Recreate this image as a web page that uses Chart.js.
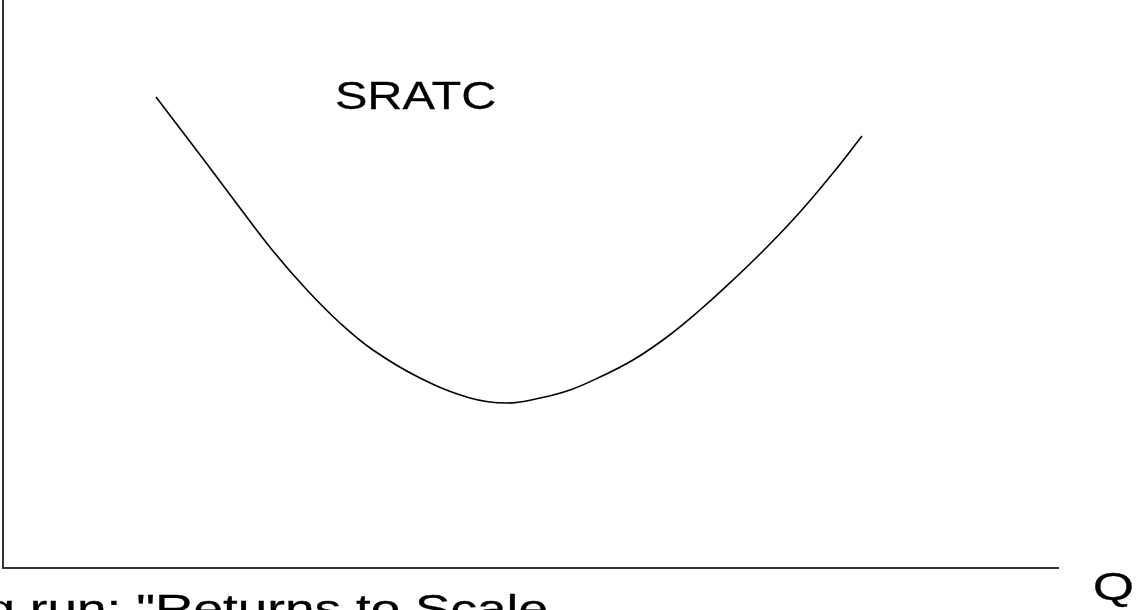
<!DOCTYPE html>
<html>
<head>
<meta charset="utf-8">
<script src="https://cdn.jsdelivr.net/npm/chart.js@4.4.0/dist/chart.umd.min.js"></script>
<style>
  html, body { margin: 0; padding: 0; background: #fff; }
  #wrap { width: 1136px; height: 610px; }
</style>
</head>
<body>
<div id="wrap"><canvas id="myChart" width="1136" height="610"></canvas></div>
<script>
// quantity (x) and short-run average total cost (y)
var quantity = [153, 204, 237, 270, 304, 337, 370, 417, 467, 504, 537, 567, 597, 630, 664, 697, 730, 764, 797, 830, 859];
var sratc    = [471, 404, 360, 317, 278, 245, 218, 190, 170, 165, 170, 178, 191, 208, 231, 258, 288, 321, 356, 395, 432];

var curveLabel = "SRATC";
var xAxisLabel = "Q";
var footerText = 'Long run: "Returns to Scale';

var points = quantity.map(function (q, i) { return { x: q, y: sratc[i] }; });

var FONT = "46px 'Liberation Sans', Arial, sans-serif";
var SY = 0.84; // text in the picture is squashed vertically

function drawScaled(ctx, text, sx) {
  ctx.scale(sx, SY);
  ctx.fillStyle = "#000";
  ctx.strokeStyle = "#000";
  ctx.lineWidth = 0.3;
  ctx.textBaseline = "alphabetic";
  ctx.fillText(text, 0, 0);
  ctx.strokeText(text, 0, 0);
}

// draws a string with its ink stretched to a given width, left edge at x
function stretchedText(ctx, text, x, baseline, inkWidth) {
  ctx.save();
  ctx.font = FONT;
  var m = ctx.measureText(text);
  var w = m.actualBoundingBoxRight + m.actualBoundingBoxLeft;
  var sx = inkWidth / w;
  ctx.translate(x + m.actualBoundingBoxLeft * sx, baseline);
  drawScaled(ctx, text, sx);
  ctx.restore();
}

var labelsPlugin = {
  id: "labels",
  afterDraw: function (chart) {
    var ctx = chart.ctx;
    stretchedText(ctx, curveLabel, 337, 109, 158);
    stretchedText(ctx, xAxisLabel, 1095, 600, 37);

    // footer: cut at the left edge, "R" of Returns sits near x=155
    ctx.save();
    ctx.font = FONT;
    var sx = 260 / ctx.measureText("Returns to ").width;
    var pre = ctx.measureText('Long run: "').width * sx;
    ctx.translate(155 - pre, 622);
    drawScaled(ctx, footerText, sx);
    ctx.restore();
  }
};

var ctx = document.getElementById("myChart").getContext("2d");
var myChart = new Chart(ctx, {
  type: "line",
  data: {
    datasets: [{
      label: curveLabel,
      data: points,
      borderColor: "#000",
      borderWidth: 1.6,
      pointRadius: 0,
      fill: false,
      tension: 0.4
    }]
  },
  options: {
    responsive: false,
    animation: false,
    layout: { padding: { left: -5, top: 0, right: 78, bottom: 34 } },
    plugins: { legend: { display: false }, tooltip: { enabled: false } },
    scales: {
      x: {
        type: "linear",
        min: 0,
        max: 1055,
        ticks: { display: false },
        grid: { display: false },
        border: { display: true, color: "#333", width: 2 }
      },
      y: {
        min: 0,
        max: 568,
        ticks: { display: false },
        grid: { display: false },
        border: { display: true, color: "#333", width: 2 }
      }
    }
  },
  plugins: [labelsPlugin]
});
</script>
</body>
</html>
